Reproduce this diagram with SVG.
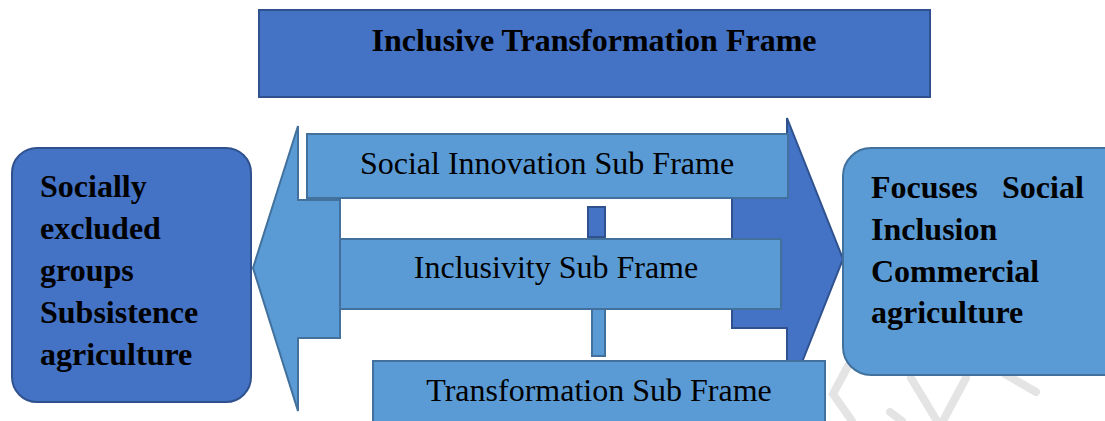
<svg xmlns="http://www.w3.org/2000/svg" width="1105" height="421" viewBox="0 0 1105 421">
<style>
.dark{fill:#4472C4;stroke:#2F528F;stroke-width:2}
.light{fill:#5B9BD5;stroke:#41719C;stroke-width:2}
.b{font-family:"Liberation Serif","Times New Roman",serif;font-weight:bold;font-size:32px;fill:#000}
.r{font-family:"Liberation Serif","Times New Roman",serif;font-size:32px;fill:#000}
.wm{stroke:#e4e4e4;stroke-width:8;stroke-linecap:round;fill:none}
</style>
<rect width="1105" height="421" fill="#fff"/>
<g id="watermark">
<path class="wm" d="M848 366 L833 394 L852 421"/>
<path class="wm" d="M890 412 L902 421"/>
<path class="wm" d="M911 378 L937 421"/>
<path class="wm" d="M966 378 L943 421"/>
<path class="wm" d="M1005 374 L1036 392"/>
</g>
<g id="connectors">
<path class="light" d="M253 268 L298 126 L298 200 L340 200 L340 338 L298 338 L298 411 Z"/>
<path class="dark" d="M732 190 L787 190 L787 118 L843 259 L787 400 L787 328 L732 328 Z"/>
<rect class="dark" x="588" y="207" width="17" height="30"/>
<rect class="light" x="592" y="307" width="13" height="49"/>
</g>
<g id="title">
<rect class="dark" x="259" y="10" width="671" height="87"/>
<text class="b" x="594" y="51" text-anchor="middle">Inclusive Transformation Frame</text>
</g>
<g id="social-innovation">
<rect class="light" x="307" y="134" width="481" height="64"/>
<text class="r" x="547" y="174" text-anchor="middle">Social Innovation Sub Frame</text>
</g>
<g id="inclusivity">
<rect class="light" x="340" y="239" width="441" height="70"/>
<text class="r" x="556" y="278" text-anchor="middle">Inclusivity Sub Frame</text>
</g>
<g id="transformation">
<rect class="light" x="373" y="361" width="452" height="70"/>
<text class="r" x="599" y="401" text-anchor="middle">Transformation Sub Frame</text>
</g>
<g id="left-node">
<rect class="dark" x="12" y="148" width="239" height="254" rx="25"/>
<text class="b" x="40" y="197">Socially</text>
<text class="b" x="40" y="239">excluded</text>
<text class="b" x="40" y="281">groups</text>
<text class="b" x="40" y="323">Subsistence</text>
<text class="b" x="40" y="365">agriculture</text>
</g>
<g id="right-node">
<rect class="light" x="843" y="148" width="290" height="227" rx="28"/>
<text class="b" x="871" y="198">Focuses</text>
<text class="b" x="1002" y="198">Social</text>
<text class="b" x="871" y="240">Inclusion</text>
<text class="b" x="871" y="282">Commercial</text>
<text class="b" x="871" y="323">agriculture</text>
</g>
</svg>
